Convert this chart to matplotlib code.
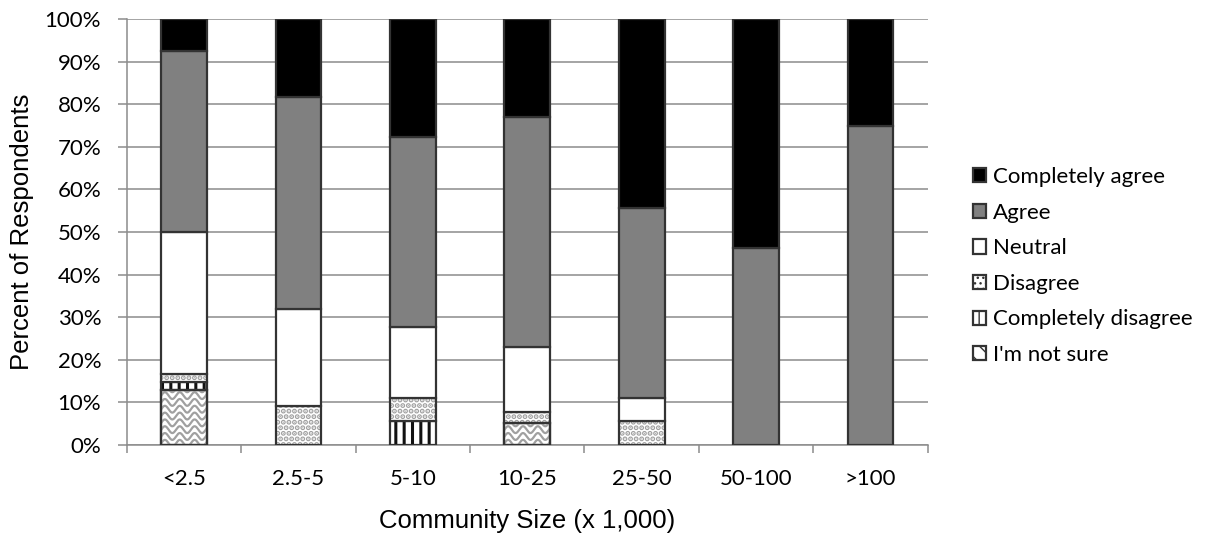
import numpy as np
import matplotlib
matplotlib.use("Agg")
import matplotlib.pyplot as plt
from matplotlib.patches import Patch
from matplotlib.ticker import PercentFormatter, FixedLocator, NullFormatter

categories = ["<2.5", "2.5-5", "5-10", "10-25", "25-50", "50-100", ">100"]

# Percent of respondents per answer, bottom of the stack first
not_sure = [12.96, 0.0, 0.0, 5.13, 0.0, 0.0, 0.0]
completely_disagree = [1.85, 0.0, 5.56, 0.0, 0.0, 0.0, 0.0]
disagree = [1.85, 9.09, 5.56, 2.56, 5.56, 0.0, 0.0]
neutral = [33.33, 22.73, 16.67, 15.38, 5.56, 0.0, 0.0]
agree = [42.59, 50.00, 44.44, 53.85, 44.44, 46.15, 75.0]
completely_agree = [7.41, 18.18, 27.78, 23.08, 44.44, 53.85, 25.0]

series_names = ["I'm not sure", "Completely disagree", "Disagree",
                "Neutral", "Agree", "Completely agree"]
series_values = [not_sure, completely_disagree, disagree,
                 neutral, agree, completely_agree]

label_font = ["Liberation Sans", "DejaVu Sans"]
tick_font = ["Lato", "DejaVu Sans"]

fig = plt.figure(figsize=(12.08, 5.46), dpi=100)
ax = fig.add_axes([0.105, 0.185, 0.663, 0.78])

edge = "#333333"
styles = {
    "I'm not sure": dict(facecolor="white", hatch=None),
    "Completely disagree": dict(facecolor="white", hatch="||"),
    "Disagree": dict(facecolor="white", hatch="..."),
    "Neutral": dict(facecolor="white", hatch=None),
    "Agree": dict(facecolor="#808080", hatch=None),
    "Completely agree": dict(facecolor="#000000", hatch=None),
}
hatch_colors = {"Completely disagree": "#111111", "Disagree": "#a0a0a0"}
hatch_widths = {"Completely disagree": 2.2, "Disagree": 2.6}

x = np.arange(len(categories))
width = 0.40
bottom = np.zeros(len(categories))
containers = {}
for name, vals in zip(series_names, series_values):
    vals = np.asarray(vals, dtype=float)
    st = styles[name]
    bars = ax.bar(x, vals, width, bottom=bottom, facecolor=st["facecolor"],
                  edgecolor=edge, linewidth=1.6, zorder=3)
    for b, v in zip(bars, vals):
        if v <= 0:
            b.set_visible(False)
            continue
        if st["hatch"]:
            b.set_hatch(st["hatch"])
            b._hatch_color = matplotlib.colors.to_rgba(hatch_colors[name])
            if hasattr(b, "set_hatch_linewidth"):
                b.set_hatch_linewidth(hatch_widths[name])
    containers[name] = bars
    bottom += vals

# Wavy texture for the "I'm not sure" segments, clipped to each bar
for b, v in zip(containers["I'm not sure"], not_sure):
    if v <= 0:
        continue
    x0, y0 = b.get_x(), b.get_y()
    w, h = b.get_width(), b.get_height()
    xs = np.linspace(x0 - 0.05, x0 + w + 0.05, 200)
    step = 1.6
    for yy in np.arange(y0 + 0.4, y0 + h + step, step):
        ys = yy + 0.8 * np.sin((xs - x0) / 0.13 * 2 * np.pi)
        ln, = ax.plot(xs, ys, color="#a0a0a0", lw=1.6, zorder=3.5)
        ln.set_clip_path(b)
    # outline drawn again above the texture
    ax.add_patch(plt.Rectangle((x0, y0), w, h, fill=False, edgecolor=edge,
                               linewidth=1.6, zorder=4))

ax.set_ylim(0, 100)
ax.set_xlim(-0.5, len(categories) - 0.5)
ax.yaxis.set_major_locator(FixedLocator(np.arange(0, 101, 10)))
ax.yaxis.set_major_formatter(PercentFormatter(decimals=0))
ax.yaxis.grid(True, color="#8c8c8c", linewidth=1.1, zorder=0)
ax.set_axisbelow(True)

# category labels at centres, tick marks at boundaries
ax.set_xticks(x)
ax.set_xticklabels(categories)
ax.tick_params(axis="x", length=0, pad=17)
ax.set_xticks(np.arange(-0.5, len(categories)), minor=True)
ax.xaxis.set_minor_formatter(NullFormatter())
ax.tick_params(axis="x", which="minor", length=6, color="#8c8c8c", width=1.1)
ax.tick_params(axis="y", length=6.5, color="#8c8c8c", width=1.1, pad=12)

for lab in ax.get_xticklabels() + ax.get_yticklabels():
    lab.set_family(tick_font)
    lab.set_fontsize(16)
    lab.set_color("#000000")

for s in ["top", "right"]:
    ax.spines[s].set_visible(False)
for s in ["left", "bottom"]:
    ax.spines[s].set_color("#8c8c8c")
    ax.spines[s].set_linewidth(1.1)

ax.set_ylabel("Percent of Respondents", family=label_font, fontsize=18.5,
              labelpad=8)
ax.set_xlabel("Community Size (x 1,000)", family=label_font, fontsize=18.5,
              labelpad=15)

# Legend, top entry first
handles = []
for name in reversed(series_names):
    st = styles[name]
    if name == "I'm not sure":
        h = Patch(facecolor="white", edgecolor=edge, hatch="\\\\", linewidth=1.6)
    else:
        h = Patch(facecolor=st["facecolor"], edgecolor=edge,
                  hatch=st["hatch"], linewidth=1.6)
    handles.append(h)
leg = fig.legend(handles, list(reversed(series_names)), loc="upper left",
                 bbox_to_anchor=(0.798, 0.71), frameon=False,
                 prop=dict(family=tick_font, size=16),
                 handlelength=0.6, handleheight=0.6, handletextpad=0.3,
                 labelspacing=0.7, borderaxespad=0)

fig.savefig("out.png", dpi=100)
